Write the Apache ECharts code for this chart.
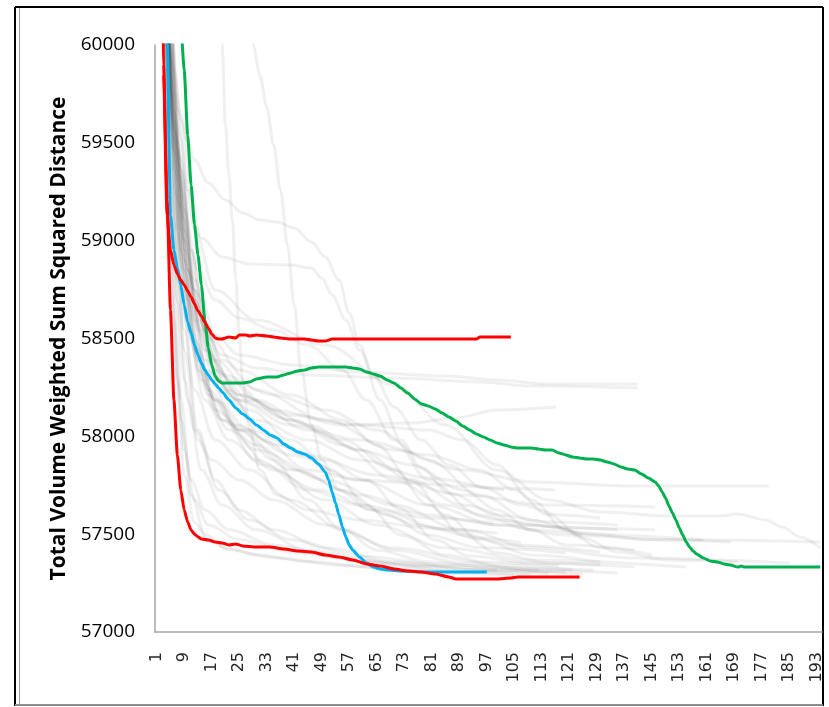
<!DOCTYPE html>
<html><head><meta charset="utf-8">
<script src="https://cdn.jsdelivr.net/npm/echarts@6/dist/echarts.min.js"></script>
<style>html,body{margin:0;padding:0;background:#fff}#c{width:829px;height:707px}</style>
</head><body><div id="c"></div>
<script>
// ---- data (pairs: [category number, value]) ----
const categoryCount = 194;
const categories = Array.from({length: categoryCount}, (_, i) => String(i + 1));
const yTicks = [57000, 57500, 58000, 58500, 59000, 59500, 60000];
const yTitle = 'Total Volume Weighted Sum Squared Distance';

const redLow = [[2,61000],[3,59900],[4,59208],[5,58646],[6,58186],[7,57905],[8,57726],[9,57624],[10,57562],[11,57521],[12,57500],[13,57486],[14,57475],[16,57470],[18,57460],[20,57455],[22,57445],[24,57450],[26,57440],[30,57434],[34,57434],[38,57424],[42,57414],[46,57409],[50,57394],[54,57383],[58,57368],[62,57348],[66,57337],[70,57322],[74,57312],[78,57307],[82,57296],[86,57281],[88,57271],[92,57271],[96,57271],[100,57271],[104,57276],[106,57281],[110,57281],[116,57281],[122,57281],[124,57281]];
const redHigh = [[2,61000],[3,59850],[4,59131],[5,58952],[6,58876],[7,58830],[8,58799],[9,58774],[10,58743],[11,58712],[12,58676],[13,58641],[14,58615],[15,58584],[16,58554],[17,58523],[18,58503],[19,58497],[20,58497],[21,58503],[22,58508],[24,58503],[25,58518],[27,58518],[28,58513],[30,58518],[33,58513],[35,58508],[37,58503],[40,58497],[44,58497],[46,58492],[48,58487],[50,58487],[52,58497],[56,58497],[70,58497],[85,58497],[94,58497],[95,58508],[104,58508]];
const blueRun = [[3,60600],[4,60050],[5,59131],[6,58952],[7,58860],[8,58774],[9,58671],[10,58584],[11,58528],[12,58467],[13,58416],[14,58375],[15,58339],[16,58314],[17,58288],[18,58268],[19,58247],[20,58227],[22,58186],[24,58145],[26,58114],[28,58089],[30,58058],[32,58033],[34,58007],[36,57992],[38,57961],[40,57940],[42,57920],[44,57910],[46,57889],[48,57859],[50,57818],[51,57777],[52,57716],[53,57659],[54,57598],[55,57537],[56,57486],[57,57445],[58,57419],[60,57383],[62,57353],[64,57332],[66,57322],[68,57317],[72,57312],[80,57307],[90,57307],[97,57307]];
const greenRun = [[7,60800],[8,60100],[9,59872],[10,59540],[11,59285],[12,59080],[13,58927],[14,58774],[15,58595],[16,58452],[17,58365],[18,58308],[19,58283],[20,58273],[22,58273],[24,58273],[26,58273],[28,58278],[30,58293],[33,58303],[36,58303],[38,58314],[40,58324],[42,58334],[44,58339],[46,58349],[48,58354],[52,58354],[56,58354],[58,58349],[60,58344],[62,58329],[64,58319],[66,58308],[68,58288],[70,58273],[72,58247],[74,58221],[76,58191],[78,58165],[80,58155],[82,58140],[84,58119],[86,58099],[88,58078],[90,58053],[92,58033],[94,58012],[96,57997],[98,57981],[100,57966],[102,57956],[104,57946],[106,57940],[110,57940],[112,57935],[114,57930],[116,57930],[118,57915],[120,57905],[122,57894],[124,57889],[126,57884],[128,57884],[130,57879],[132,57869],[134,57859],[136,57843],[138,57833],[140,57828],[142,57808],[144,57787],[146,57767],[147,57746],[148,57716],[149,57685],[150,57644],[151,57608],[152,57572],[153,57532],[154,57496],[155,57460],[156,57434],[157,57414],[158,57399],[160,57378],[162,57363],[164,57358],[166,57348],[168,57342],[170,57332],[171,57337],[172,57332],[194,57332]];

const run01 = [[19,60200],[20,60000],[21,59591],[22,59336],[23,59106],[24,58799],[25,58518],[26,58288],[28,58032],[31,57828],[36,57700],[45,57624],[60,57573],[80,57532],[100,57506]];
const run02 = [[28,60300],[29,60000],[31,59847],[33,59683],[35,59489],[37,59259],[39,58978],[41,58671],[43,58339],[46,58058],[49,57879],[54,57726],[63,57624],[77,57547],[95,57480],[107,57455]];
const run03 = [[3,60500],[5,59923],[7,59463],[9,59106],[12,58748],[15,58543],[20,58416],[30,58349],[45,58314],[70,58298],[95,58278],[110,58257],[141,58247]];
const run04 = [[4,60400],[6,59770],[8,59361],[11,58952],[14,58697],[18,58518],[25,58416],[40,58365],[60,58329],[85,58308],[100,58288],[115,58267],[141,58267]];
const run05 = [[4,60200],[6,59872],[8,59642],[10,59504],[12,59412],[16,59295],[21,59208],[26,59141],[31,59106],[36,59095],[41,59065],[46,58993],[50,58917],[54,58799],[57,58630],[60,58467],[64,58314],[70,58150],[78,57981],[86,57854],[96,57736],[107,57649],[118,57598],[130,57583]];
const run06 = [[4,60300],[7,59668],[10,59259],[14,59014],[20,58917],[28,58881],[40,58876],[46,58860],[49,58809],[52,58722],[56,58594],[60,58441],[66,58186],[72,57981],[78,57838],[86,57710],[100,57598],[115,57562],[135,57547]];
const run07 = [[5,60300],[8,59617],[12,59054],[18,58748],[30,58594],[50,58467],[70,58262],[85,58058],[100,57828],[115,57675],[130,57613],[150,57593],[165,57593],[170,57603],[178,57573],[183,57537],[188,57486],[194,57430]];
const run08 = [[4,60300],[6,59566],[9,58901],[13,58441],[18,58186],[26,58032],[40,57905],[60,57777],[80,57649],[100,57547],[120,57496],[150,57471],[194,57460]];
const run09 = [[4,60300],[7,59514],[10,58952],[14,58594],[20,58390],[30,58237],[50,58083],[70,57930],[90,57828],[110,57767],[140,57746],[179,57746]];
const run10 = [[5,60300],[8,59514],[11,58952],[15,58543],[22,58288],[35,58135],[55,58058],[75,58068],[88,58094],[100,58135],[117,58150]];
const run11 = [[4,60300],[6,59617],[9,59003],[13,58543],[20,58237],[30,58083],[45,57981],[60,57879],[80,57787],[100,57736],[117,57726]];
const run12 = [[3,60400],[5,59770],[8,59054],[12,58492],[18,58186],[28,58032],[45,57905],[65,57803],[90,57700],[115,57649],[146,57639]];
const run13 = [[4,60300],[7,59361],[11,58697],[16,58288],[25,58032],[40,57828],[60,57700],[80,57598],[100,57547],[135,57522]];
const run14 = [[5,60200],[8,59310],[12,58748],[18,58390],[30,58186],[45,58058],[60,57930],[75,57777],[90,57649],[110,57547],[130,57496],[160,57471]];
const run15 = [[4,60300],[6,59668],[9,59054],[13,58594],[20,58314],[35,58211],[50,58135],[65,58032],[80,57879],[95,57700],[110,57573],[125,57506],[145,57471],[168,57460]];
const run16 = [[3,60400],[5,59668],[8,58952],[12,58441],[18,58135],[30,57930],[50,57777],[70,57649],[90,57522],[110,57430],[140,57378],[185,57353]];
const run17 = [[4,60300],[6,59463],[9,58748],[14,58288],[22,58032],[35,57828],[50,57675],[65,57547],[85,57430],[110,57368],[155,57332]];
const run18 = [[3,60300],[5,59566],[8,58748],[12,58237],[18,57981],[28,57828],[40,57675],[55,57522],[70,57419],[90,57353],[110,57317],[135,57302]];
const run19 = [[4,60300],[7,59412],[10,58850],[15,58441],[25,58211],[40,58083],[55,57956],[70,57777],[85,57649],[100,57573],[120,57532],[146,57522]];
const run20 = [[4,60300],[6,59514],[9,58850],[13,58390],[20,58083],[30,57879],[45,57726],[60,57649],[80,57583],[99,57557]];
const run21 = [[3,60300],[4,59463],[6,58594],[8,58083],[11,57777],[15,57624],[22,57522],[35,57445],[55,57378],[75,57337],[95,57317],[120,57307]];
const run22 = [[3,60300],[5,59514],[7,58799],[10,58186],[14,57828],[20,57649],[30,57522],[45,57419],[65,57353],[90,57307],[110,57291]];
const run23 = [[4,60300],[6,59361],[9,58543],[13,58032],[18,57777],[25,57624],[35,57522],[50,57430],[70,57358],[95,57317],[125,57296]];
const run24 = [[4,60300],[7,59208],[11,58543],[16,58237],[25,58032],[35,57879],[45,57675],[55,57522],[65,57419],[80,57358],[100,57327],[128,57317]];
const run25 = [[5,60300],[8,59157],[12,58594],[18,58288],[28,58135],[40,57981],[52,57828],[62,57649],[72,57496],[85,57394],[100,57342],[122,57317]];
const run26 = [[4,60300],[7,59310],[10,58697],[15,58339],[25,58186],[40,58083],[55,57981],[70,57828],[80,57649],[90,57496],[100,57404],[115,57353],[140,57332]];
const run27 = [[5,60300],[8,59412],[12,58799],[17,58492],[25,58339],[40,58211],[55,58083],[65,57956],[75,57777],[85,57598],[95,57471],[110,57394],[130,57358]];
const run28 = [[3,60300],[4,59617],[5,58952],[7,58288],[9,57930],[12,57675],[16,57547],[25,57471],[40,57409],[60,57368],[80,57337],[100,57317]];
const run29 = [[4,60300],[6,59259],[9,58441],[13,57981],[19,57726],[28,57573],[40,57471],[60,57388],[85,57342],[112,57317]];
const run30 = [[4,60300],[6,59463],[9,58799],[13,58339],[20,58083],[30,57956],[42,57828],[55,57726],[68,57598],[80,57496],[95,57430],[120,57404]];
const run31 = [[4,60300],[7,59463],[10,58850],[15,58390],[24,58186],[40,58058],[60,57981],[80,57905],[95,57828],[105,57726],[115,57598],[125,57480],[135,57409],[150,57368],[170,57358]];
const run32 = [[5,60300],[8,59361],[12,58697],[18,58339],[28,58186],[45,58032],[60,57930],[75,57854],[90,57726],[100,57624],[110,57522],[120,57445],[140,57419]];
const run33 = [[4,60300],[6,59566],[9,58952],[14,58543],[22,58237],[32,57981],[45,57828],[60,57777],[75,57762],[90,57746],[102,57726]];
const run34 = [[3,60300],[5,59668],[7,59054],[10,58543],[15,58186],[22,57981],[32,57854],[48,57726],[65,57624],[85,57522],[105,57445],[130,57409]];
const run35 = [[5,60300],[8,59259],[12,58697],[17,58390],[25,58211],[40,58109],[60,58058],[80,58032],[90,57981],[100,57854],[110,57675],[120,57522],[130,57430],[145,57394]];
const run36 = [[4,60300],[6,59668],[9,59157],[13,58850],[18,58697],[25,58605],[35,58543],[45,58467],[55,58339],[62,58186],[70,57981],[80,57777],[95,57598],[110,57522],[125,57496]];
const run37 = [[3,60300],[5,59412],[7,58697],[9,58288],[12,58032],[17,57879],[25,57777],[35,57675],[50,57547],[70,57430],[95,57358],[118,57337]];
const run38 = [[4,60300],[6,59412],[8,58901],[11,58492],[16,58211],[24,58058],[36,57956],[50,57879],[62,57777],[72,57624],[82,57471],[92,57388],[110,57353],[130,57342]];
const run39 = [[3,60300],[5,59300],[7,58300],[9,57800],[12,57560],[16,57470],[22,57420],[35,57380],[55,57340],[80,57300],[105,57290]];
const run40 = [[4,60300],[6,59100],[8,58200],[11,57700],[15,57500],[21,57430],[30,57395],[45,57360],[65,57330],[90,57310],[115,57300]];

const grayRuns = [run01,run02,run03,run04,run05,run06,run07,run08,run09,run10,run11,run12,run13,run14,run15,run16,run17,run18,run19,run20,run21,run22,run23,run24,run25,run26,run27,run28,run29,run30,run31,run32,run33,run34,run35,run36,run37,run38,run39,run40];

// ---- chart ----
const toData = run => run.map(p => [String(p[0]), p[1]]);
const series = grayRuns.map(run => ({
  type: 'line', data: toData(run), symbol: 'none', smooth: 0.35, smoothMonotone: 'x',
  lineStyle: {color: 'rgba(60,60,60,0.075)', width: 3}, silent: true, z: 2
}));
const hl = (run, color, z) => ({
  type: 'line', data: toData(run), symbol: 'none', smooth: 0.2, smoothMonotone: 'x',
  lineStyle: {color: color, width: 3}, z: z
});
series.push(hl(greenRun, '#00B050', 3));
series.push(hl(blueRun, '#00B0F0', 4));
series.push(hl(redHigh, '#FF0000', 5));
series.push(hl(redLow, '#FF0000', 5));

const chart = echarts.init(document.getElementById('c'), null, {renderer: 'canvas'});
chart.setOption({
  animation: false,
  backgroundColor: '#fff',
  grid: {left: 155, right: 7, top: 45, bottom: 75, containLabel: false},
  xAxis: {
    type: 'category', data: categories, boundaryGap: true,
    axisLine: {lineStyle: {color: '#a6a6a6', width: 1.5}},
    axisTick: {show: false},
    axisLabel: {interval: 7, rotate: 90, margin: 20, color: '#262626', fontSize: 16, fontFamily: 'DejaVu Sans'},
    splitLine: {show: false}
  },
  yAxis: {
    type: 'value', min: yTicks[0], max: yTicks[yTicks.length - 1], interval: 500,
    name: yTitle, nameLocation: 'middle', nameGap: 76, nameRotate: 90,
    nameTextStyle: {fontFamily: 'Open Sans', fontWeight: 'bold', fontSize: 21, color: '#000'},
    axisLine: {show: true, lineStyle: {color: '#a6a6a6', width: 1.5}},
    axisTick: {show: false},
    axisLabel: {margin: 20, color: '#000', fontSize: 19, fontFamily: 'Open Sans', formatter: v => String(v)},
    splitLine: {show: false}
  },
  graphic: [
    {type: 'line', shape: {x1: 15, y1: 7, x2: 823, y2: 7}, style: {stroke: '#000', lineWidth: 2}, silent: true},
    {type: 'line', shape: {x1: 15, y1: 7, x2: 15, y2: 706}, style: {stroke: '#000', lineWidth: 2}, silent: true},
    {type: 'line', shape: {x1: 19.5, y1: 8, x2: 19.5, y2: 704}, style: {stroke: '#9a9a9a', lineWidth: 1}, silent: true},
    {type: 'line', shape: {x1: 823, y1: 7, x2: 823, y2: 706}, style: {stroke: '#000', lineWidth: 2}, silent: true},
    {type: 'line', shape: {x1: 15, y1: 705, x2: 823, y2: 705}, style: {stroke: '#8c8c8c', lineWidth: 2}, silent: true}
  ],
  series: series
});
</script></body></html>
